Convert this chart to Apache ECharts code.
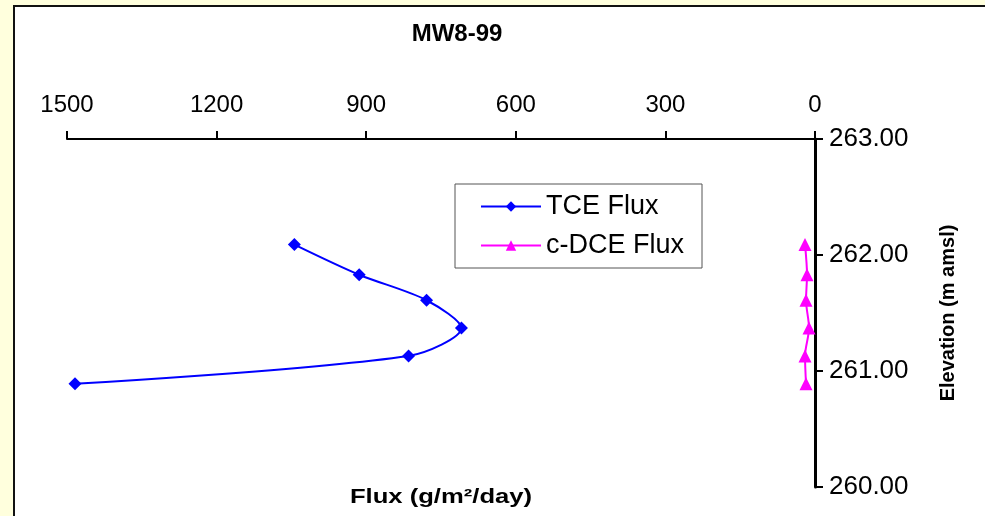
<!DOCTYPE html>
<html>
<head>
<meta charset="utf-8">
<script src="https://cdn.jsdelivr.net/npm/echarts@6/dist/echarts.min.js"></script>
<style>
html,body{margin:0;padding:0;background:#FFFFDD;}
#chart{width:985px;height:516px;}
</style>
</head>
<body>
<div id="chart"></div>
<script>
var chartTitle = 'MW8-99';
var fluxTicks = [0, 300, 600, 900, 1200, 1500];
var elevation = [262.09, 261.83, 261.61, 261.37, 261.13, 260.89];
var tceFlux = [1044, 914, 779, 709, 815, 1484];
var dceFlux = [20, 16, 18, 12, 20, 18];
var seriesNames = ['TCE Flux', 'c-DCE Flux'];

function pairs(xs, ys) { return xs.map(function (v, i) { return [v, ys[i]]; }); }

var chart = echarts.init(document.getElementById('chart'));
var font = 'Liberation Sans, Arial, sans-serif';
chart.setOption({
  backgroundColor: '#FFFFDD',
  animation: false,
  title: {
    text: chartTitle, left: 452, top: 17, textAlign: 'center',
    textStyle: { fontFamily: font, fontWeight: 'bold', fontSize: 24, color: '#000' }
  },
  graphic: [
    { type: 'rect', z: -10, shape: { x: 14, y: 6, width: 980, height: 520 },
      style: { fill: '#fff', stroke: '#111', lineWidth: 2 } },
    { type: 'text', z: 5, x: 441, y: 497, scaleX: 1.22,
      style: { text: 'Flux (g/m²/day)', align: 'center', verticalAlign: 'middle',
        font: 'bold 21px Liberation Sans, Arial, sans-serif', fill: '#000' } }
  ],
  legend: {
    orient: 'vertical', left: 455, top: 184,
    padding: [9, 18, 9, 25], itemGap: 12, itemWidth: 60, itemHeight: 13,
    borderColor: '#555', borderWidth: 1, backgroundColor: '#fff',
    textStyle: { fontFamily: font, fontSize: 27, color: '#000' },
    data: seriesNames
  },
  grid: { left: 67, right: 170, top: 139, bottom: 29 },
  xAxis: {
    type: 'value', position: 'top', inverse: true,
    min: fluxTicks[0], max: fluxTicks[fluxTicks.length - 1], interval: 300,
    axisLine: { lineStyle: { color: '#000', width: 2 } },
    axisTick: { show: true, length: 8, lineStyle: { color: '#000', width: 2 } },
    axisLabel: { margin: 22, fontFamily: font, fontSize: 24, color: '#000',
      formatter: function (v) { return String(v); } },
    splitLine: { show: false }
  },
  yAxis: {
    type: 'value', position: 'right', min: 260, max: 263, interval: 1,
    name: 'Elevation (m amsl)', nameLocation: 'middle', nameRotate: 90, nameGap: 123,
    nameTextStyle: { fontFamily: font, fontWeight: 'bold', fontSize: 20, color: '#000' },
    axisLine: { onZero: false, lineStyle: { color: '#000', width: 3 } },
    axisTick: { show: true, length: 8, lineStyle: { color: '#000', width: 2 } },
    axisLabel: { margin: 14, fontFamily: font, fontSize: 26, color: '#000',
      formatter: function (v) { return v.toFixed(2); } },
    splitLine: { show: false }
  },
  series: [
    { name: seriesNames[0], type: 'line', smooth: 0.3, data: pairs(tceFlux, elevation),
      symbol: 'diamond', symbolSize: 13,
      itemStyle: { color: '#0000FF' }, lineStyle: { color: '#0000FF', width: 2 } },
    { name: seriesNames[1], type: 'line', smooth: 0.3, data: pairs(dceFlux, elevation),
      symbol: 'triangle', symbolSize: 13,
      itemStyle: { color: '#FF00FF' }, lineStyle: { color: '#FF00FF', width: 2 } }
  ]
});
</script>
</body>
</html>
